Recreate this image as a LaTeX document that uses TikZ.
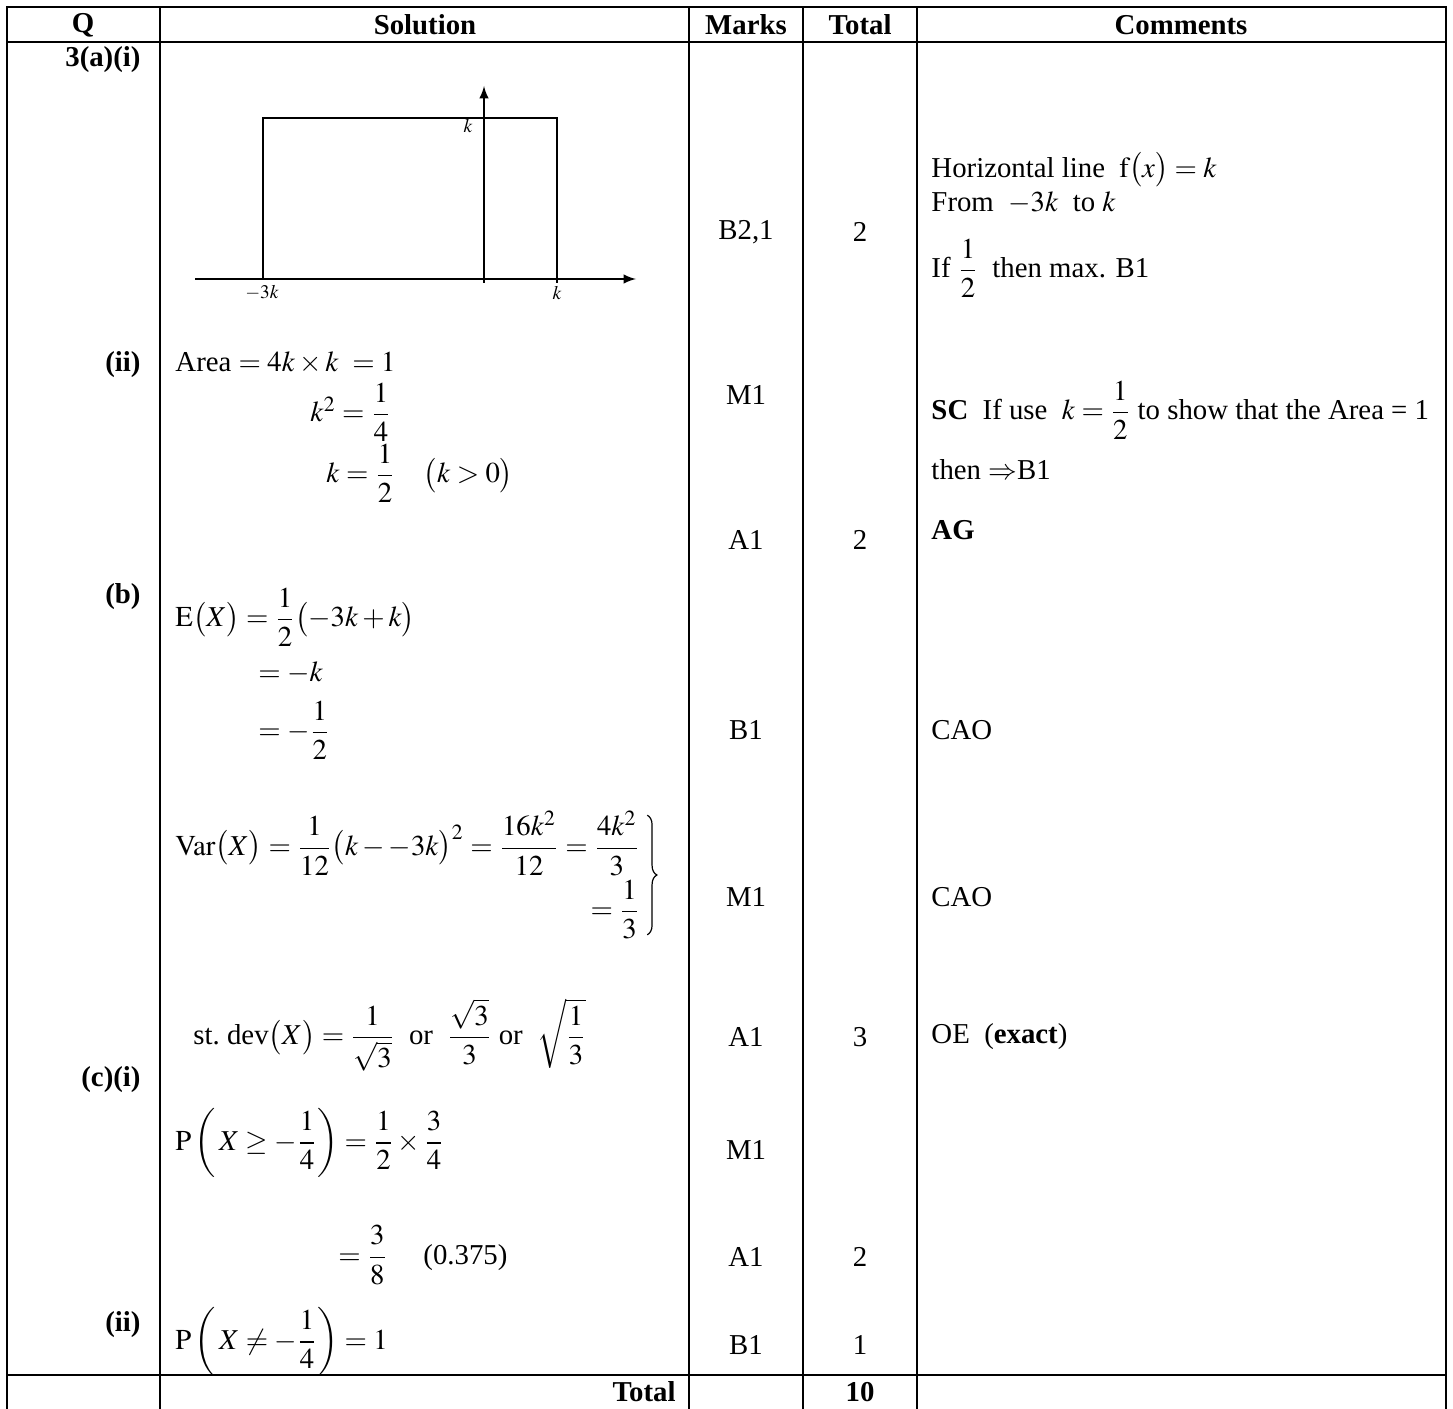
\documentclass[tikz,border=0pt,12pt]{standalone}
\usepackage{amsmath}
\usepackage{mathptmx}
\usepackage[no-math]{fontspec}
\setmainfont{Liberation Serif}
\usetikzlibrary{decorations.pathreplacing}

\begin{document}
\begin{tikzpicture}[x=0.41667pt,y=-0.41667pt,
	rule/.style={line width=1.2pt},
	plotline/.style={line width=0.8pt},
	hdr/.style={font=\bfseries},
	qlab/.style={anchor=east,font=\bfseries,inner sep=0pt},
	sol/.style={anchor=west,inner sep=0pt},
	markcell/.style={inner sep=0pt},
	cmt/.style={anchor=west,inner sep=0pt},
	axlab/.style={font=\scriptsize,inner sep=0pt}]
	% page size
	\useasboundingbox (0,0) rectangle (1453,1408);
	% draw table rules
	\draw[rule] (7,1420) -- (7,7) -- (1446,7) -- (1446,1420);
	\draw[rule] (7,42) -- (1446,42);
	\draw[rule] (7,1375) -- (1446,1375);
	\foreach \x in {160,689,803,917}
		\draw[rule] (\x,7) -- (\x,1420);
	% header row
	\node[hdr] (hq) at (83,25) {Q};
	\node[hdr] (hsol) at (425,25) {Solution};
	\node[hdr] (hmarks) at (746,25) {Marks};
	\node[hdr] (htotal) at (860,25) {Total};
	\node[hdr] (hcom) at (1181,25) {Comments};
	% question labels
	\node[qlab] (q3ai) at (141,60) {3(a)(i)};
	\node[qlab] (q3aii) at (141,365) {(ii)};
	\node[qlab] (q3b) at (141,597) {(b)};
	\node[qlab] (q3ci) at (141,1080) {(c)(i)};
	\node[qlab] (q3cii) at (141,1325) {(ii)};
	% draw graph of f(x)
	\draw[plotline,-latex] (195,279) -- (636,279);
	\draw[plotline,-latex] (484,283) -- (484,86);
	\draw[plotline] (263,279) -- (263,118) -- (557,118) -- (557,283);
	\node[axlab] (ktop) at (468,126) {$k$};
	\node[axlab] (kneg) at (262,293) {$-3k$};
	\node[axlab] (kpos) at (557,293) {$k$};
	% solution column
	\node[sol] (area) at (175,363) {Area $=4k\times k\ =1$};
	\node[sol] (ksq) at (310,412) {$k^2=\dfrac{1}{4}$};
	\node[sol] (kval) at (326,473) {$k=\dfrac{1}{2}\quad\bigl(k>0\bigr)$};
	\node[sol] (ex) at (175,617) {$\mathrm{E}\bigl(X\bigr)=\dfrac{1}{2}\bigl(-3k+k\bigr)$};
	\node[sol] (exk) at (258,673) {$=-k$};
	\node[sol] (exh) at (258,730) {$=-\dfrac{1}{2}$};
	\node[sol] (var) at (175,875) {\thickmuskip=4mu $\begin{array}{@{}r@{}}
		\mathrm{Var}\bigl(X\bigr)=\dfrac{1}{12}\bigl(k--3k\bigr)^2=\dfrac{16k^2}{12}=\dfrac{4k^2}{3}\\[6pt]
		=\dfrac{1}{3}\end{array}$};
	\draw[decorate,decoration={brace,amplitude=4pt},line width=0.5pt]
		([xshift=3pt,yshift=-2pt]var.north east) -- ([xshift=3pt,yshift=2pt]var.south east);
	\node[sol] (sd) at (193,1035) {st.\ dev$\bigl(X\bigr)=\dfrac{1}{\sqrt{3}}$\ \ or \ $\dfrac{\sqrt{3}}{3}$ or \ $\sqrt{\dfrac{1}{3}}$};
	\node[sol] (pge) at (175,1143) {$\mathrm{P}\left(\,X\ge-\dfrac{1}{4}\right)=\dfrac{1}{2}\times\dfrac{3}{4}$};
	\node[sol] (pval) at (338,1255) {$=\dfrac{3}{8}$\quad\ (0.375)};
	\node[sol] (pne) at (175,1342) {$\mathrm{P}\left(\,X\ne-\dfrac{1}{4}\right)=1$};
	\node[qlab] (tot) at (676,1392) {Total};
	% marks column
	\node[markcell] (m1) at (746,232) {B2,1};
	\node[markcell] (m2) at (746,395) {M1};
	\node[markcell] (m3) at (746,540) {A1};
	\node[markcell] (m4) at (746,730) {B1};
	\node[markcell] (m5) at (746,897) {M1};
	\node[markcell] (m6) at (746,1037) {A1};
	\node[markcell] (m7) at (746,1150) {M1};
	\node[markcell] (m8) at (746,1257) {A1};
	\node[markcell] (m9) at (746,1345) {B1};
	% total column
	\node[markcell] (t1) at (860,232) {2};
	\node[markcell] (t2) at (860,540) {2};
	\node[markcell] (t3) at (860,1037) {3};
	\node[markcell] (t4) at (860,1257) {2};
	\node[markcell] (t5) at (860,1345) {1};
	\node[markcell,font=\bfseries] (t6) at (860,1392) {10};
	% comments column
	\node[cmt] (c1) at (931,170) {Horizontal line \ $\mathrm{f}\bigl(x\bigr)=k$};
	\node[cmt] (c2) at (931,203) {From \ $-3k$ \ to $k$};
	\node[cmt] (c3) at (931,268) {If $\dfrac{1}{2}$ \ then max. B1};
	\node[cmt] (c4) at (931,410) {\textbf{SC}\ \ If use \ $k=\dfrac{1}{2}$ to show that the Area = 1};
	\node[cmt] (c5) at (931,470) {then $\Rightarrow$B1};
	\node[cmt] (c6) at (931,530) {\textbf{AG}};
	\node[cmt] (c7) at (931,730) {CAO};
	\node[cmt] (c8) at (931,897) {CAO};
	\node[cmt] (c9) at (931,1037) {OE \ (\textbf{exact})};
\end{tikzpicture}
\end{document}
